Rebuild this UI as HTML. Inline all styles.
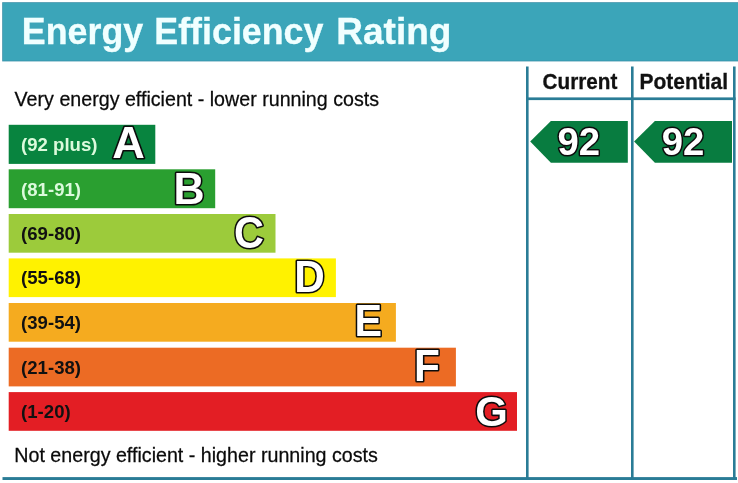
<!DOCTYPE html>
<html lang="en">
<head>
<meta charset="utf-8">
<title>Energy Efficiency Rating</title>
<style>
html,body{margin:0;padding:0;background:#fff;}
body{width:738px;height:483px;overflow:hidden;position:relative;font-family:"Liberation Sans",sans-serif;}
svg{display:block;position:absolute;left:0;top:0;}
text{font-family:"Liberation Sans",sans-serif;}
.b{font-weight:bold;}
.lab{font-weight:bold;font-size:18px;}
.let{font-weight:bold;font-size:43px;fill:#fff;stroke:#0c0c0c;stroke-width:3.2px;paint-order:stroke fill;stroke-linejoin:round;}
.num{font-weight:bold;font-size:38.3px;fill:#fff;stroke:#0c0c0c;stroke-width:3px;paint-order:stroke fill;stroke-linejoin:round;}
.desc{font-size:20px;fill:#0a0a0a;stroke:#0a0a0a;stroke-width:0.25px;}
.hd{font-weight:bold;font-size:21px;fill:#111;stroke:#111;stroke-width:0.3px;}
</style>
</head>
<body>
<svg width="738" height="483" viewBox="0 0 738 483">
  <rect x="0" y="0" width="738" height="483" fill="#ffffff"/>
  <!-- header -->
  <rect x="2.2" y="2.2" width="736" height="59.2" fill="#3890a8"/>
  <rect x="3" y="3" width="736" height="57.6" fill="#3ba5b9"/>
  <g class="b" font-size="37.5" fill="#f0ffff" stroke="#f0ffff" stroke-width="0.35">
    <text transform="translate(21.8 44) scale(0.955 1)">Energy</text>
    <text transform="translate(154.3 44) scale(0.955 1)">Efficiency</text>
    <text transform="translate(336.2 44) scale(0.988 1)">Rating</text>
  </g>

  <!-- descriptions -->
  <text transform="translate(14.6 105.9) scale(0.983 1.03)" class="desc">Very energy efficient - lower running costs</text>
  <text transform="translate(14.3 461.9) scale(0.984 1.03)" class="desc">Not energy efficient - higher running costs</text>

  <!-- bars -->
  <rect x="8.7" y="124.8" width="146.6" height="39.1" fill="#08843f"/>
  <rect x="8.7" y="169.3" width="206.5" height="38.9" fill="#2a9f30"/>
  <rect x="8.7" y="214" width="266.8" height="38.7" fill="#9ccb3b"/>
  <rect x="8.7" y="258.4" width="327.2" height="38.7" fill="#fff200"/>
  <rect x="8.7" y="303" width="387.2" height="38.7" fill="#f5ab1f"/>
  <rect x="8.7" y="347.7" width="447.2" height="38.7" fill="#ec6b24"/>
  <rect x="8.7" y="392.1" width="508.3" height="38.7" fill="#e31e24"/>

  <!-- range labels -->
  <text transform="translate(21.1 151.1) scale(1.033 1)" class="lab" fill="#dcfadc">(92 plus)</text>
  <text transform="translate(21.1 195.6) scale(1.033 1)" class="lab" fill="#dcfadc">(81-91)</text>
  <text transform="translate(21.1 240.1) scale(1.033 1)" class="lab" fill="#111">(69-80)</text>
  <text transform="translate(21.1 284.4) scale(1.033 1)" class="lab" fill="#111">(55-68)</text>
  <text transform="translate(21.1 328.8) scale(1.033 1)" class="lab" fill="#111">(39-54)</text>
  <text transform="translate(21.1 373.7) scale(1.033 1)" class="lab" fill="#111">(21-38)</text>
  <text transform="translate(21.1 418.4) scale(1.033 1)" class="lab" fill="#111">(1-20)</text>

  <!-- letters -->
  <text transform="translate(112.3 158.45) scale(1.05 1.012)" class="let">A</text>
  <text transform="translate(173.6 203.55) scale(1 1.012)" class="let">B</text>
  <text transform="translate(234 247.85) scale(0.965 1.012)" class="let">C</text>
  <text transform="translate(294.2 292.05) scale(0.983 1.012)" class="let">D</text>
  <text transform="translate(354.6 336.35) scale(0.96 1.012)" class="let">E</text>
  <text transform="translate(414.1 381.25) scale(0.985 1.012)" class="let">F</text>
  <text transform="translate(475.3 426.2) scale(0.975 1)" class="let">G</text>

  <!-- table lines -->
  <g fill="#2a7c96">
    <rect x="526" y="66.5" width="2.6" height="413.5"/>
    <rect x="631" y="66.5" width="2.6" height="413.5"/>
    <rect x="733" y="66.5" width="2.6" height="413.5"/>
    <rect x="526" y="97.4" width="209.6" height="2.7"/>
    <rect x="2.5" y="477.1" width="734.5" height="2.9"/>
  </g>
  <text transform="translate(542.6 89.3) scale(0.985 1.04)" class="hd">Current</text>
  <text transform="translate(639.5 89.3) scale(1 1.04)" class="hd">Potential</text>

  <!-- arrows -->
  <polygon points="530.2,141.6 550.9,120.9 627.8,120.9 627.8,162.8 550.9,162.8" fill="#087c40"/>
  <polygon points="634.1,141.6 654.9,120.9 732,120.9 732,162.8 654.9,162.8" fill="#087c40"/>
  <text x="557.5" y="155.05" class="num">92</text>
  <text x="661.8" y="155.05" class="num">92</text>
</svg>
</body>
</html>
